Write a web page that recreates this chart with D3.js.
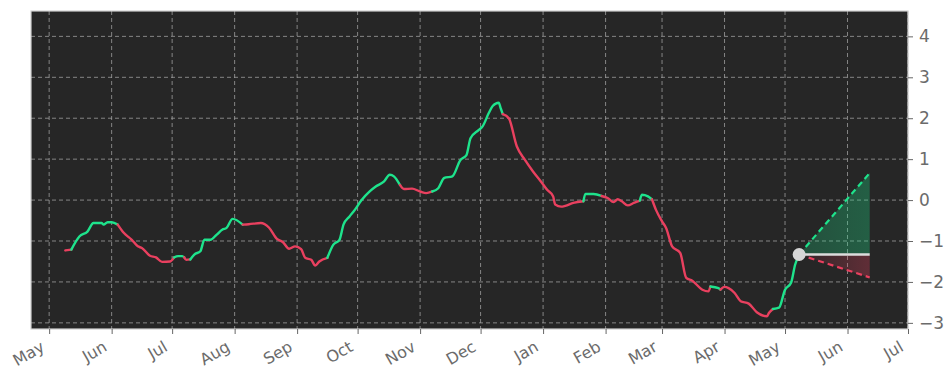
<!DOCTYPE html>
<html>
<head>
<meta charset="utf-8">
<script src="https://cdn.jsdelivr.net/npm/d3@7"></script>
<style>
  html, body { margin: 0; padding: 0; background: #ffffff; }
  svg { display: block; font-family: "DejaVu Sans", sans-serif; }
</style>
</head>
<body>
<svg id="chart" width="952" height="381"></svg>
<script>
// history: date / value pairs
const dates = [
  "2024-05-09","2024-05-12","2024-05-16","2024-05-20","2024-05-23","2024-05-27","2024-05-28","2024-05-30",
  "2024-06-01","2024-06-04","2024-06-07","2024-06-11","2024-06-14","2024-06-16","2024-06-20","2024-06-23",
  "2024-06-26","2024-06-30","2024-07-02","2024-07-04","2024-07-06","2024-07-07","2024-07-08","2024-07-10",
  "2024-07-12","2024-07-15","2024-07-17","2024-07-20","2024-07-23","2024-07-26","2024-07-28","2024-07-31",
  "2024-08-05","2024-08-08","2024-08-14","2024-08-18","2024-08-22","2024-08-25","2024-08-28","2024-08-31",
  "2024-09-03","2024-09-05","2024-09-08","2024-09-10","2024-09-12","2024-09-16","2024-09-19","2024-09-22",
  "2024-09-24","2024-09-27","2024-09-29","2024-10-03","2024-10-07","2024-10-10","2024-10-14","2024-10-17",
  "2024-10-19","2024-10-22","2024-10-24","2024-10-28","2024-11-01","2024-11-04","2024-11-07","2024-11-10",
  "2024-11-13","2024-11-17","2024-11-21","2024-11-24","2024-11-26","2024-11-30","2024-12-02","2024-12-05",
  "2024-12-07","2024-12-10","2024-12-11","2024-12-12","2024-12-15","2024-12-19","2024-12-23","2024-12-27",
  "2024-12-31","2025-01-03","2025-01-06","2025-01-07","2025-01-10","2025-01-12","2025-01-16","2025-01-21",
  "2025-01-22","2025-01-26","2025-01-30","2025-02-02","2025-02-05","2025-02-07","2025-02-09","2025-02-12",
  "2025-02-15","2025-02-18","2025-02-19","2025-02-22","2025-02-24","2025-02-26","2025-03-01","2025-03-03",
  "2025-03-06","2025-03-10","2025-03-13","2025-03-16","2025-03-21","2025-03-24","2025-03-25","2025-03-29",
  "2025-03-30","2025-04-01","2025-04-03","2025-04-06","2025-04-09","2025-04-13","2025-04-17","2025-04-22",
  "2025-04-23","2025-04-25","2025-04-28","2025-05-01","2025-05-04","2025-05-06","2025-05-08"
];
const values = [
  -1.23,-1.21,-0.89,-0.77,-0.56,-0.56,-0.60,-0.54,
  -0.54,-0.60,-0.80,-0.97,-1.13,-1.17,-1.36,-1.40,
  -1.51,-1.50,-1.40,-1.37,-1.37,-1.40,-1.46,-1.45,
  -1.33,-1.25,-0.97,-0.97,-0.85,-0.72,-0.68,-0.46,
  -0.60,-0.59,-0.56,-0.67,-0.95,-1.03,-1.19,-1.13,
  -1.20,-1.41,-1.46,-1.60,-1.50,-1.41,-1.09,-0.97,
  -0.60,-0.40,-0.28,0.00,0.21,0.33,0.45,0.62,
  0.58,0.37,0.27,0.28,0.21,0.17,0.21,0.29,
  0.54,0.58,0.98,1.10,1.51,1.71,1.80,2.12,
  2.30,2.38,2.24,2.10,2.00,1.31,0.98,0.70,
  0.45,0.25,0.09,-0.11,-0.16,-0.14,-0.07,-0.03,
  0.15,0.15,0.10,0.05,-0.05,0.02,-0.03,-0.13,
  -0.07,-0.01,0.13,0.09,0.02,-0.24,-0.52,-0.68,
  -1.13,-1.29,-1.90,-1.97,-2.19,-2.23,-2.11,-2.15,
  -2.19,-2.12,-2.15,-2.27,-2.47,-2.53,-2.74,-2.84,
  -2.76,-2.66,-2.63,-2.19,-2.02,-1.58,-1.33
];

// dates where the line colour flips (first run is red)
const trendSwitches = [
  "2024-05-12","2024-06-04","2024-07-02","2024-07-07","2024-07-10","2024-08-05","2024-09-16",
  "2024-10-22","2024-11-07","2024-12-12","2025-01-21","2025-01-30","2025-02-18","2025-02-24",
  "2025-03-25","2025-03-30","2025-04-25"
];

// projection cone
const forecastDates = ["2025-05-08", "2025-06-12"];
const forecastHigh = [-1.33, 0.66];
const forecastMid = [-1.33, -1.33];
const forecastLow = [-1.33, -1.89];

const yTicks = [-3, -2, -1, 0, 1, 2, 3, 4];
const xDomain = ["2024-04-22", "2025-07-01"];

const GREEN = "#1ee38c";
const RED = "#e9405f";
const LABEL = "#6b6b6b";

const parse = d3.utcParse("%Y-%m-%d");
const width = 952, height = 381;
const margin = {top: 11, right: 44, bottom: 52, left: 31};

const svg = d3.select("#chart");

const x = d3.scaleUtc()
    .domain(xDomain.map(parse))
    .range([margin.left, width - margin.right]);

const y = d3.scaleLinear()
    .domain([-3.15, 4.62])
    .range([height - margin.bottom, margin.top]);

const colour = d3.scaleThreshold()
    .domain(trendSwitches.map(parse))
    .range(trendSwitches.concat([null]).map((d, i) => i % 2 === 0 ? RED : GREEN));

// plot background
svg.append("rect")
    .attr("x", margin.left)
    .attr("y", margin.top)
    .attr("width", width - margin.left - margin.right)
    .attr("height", height - margin.top - margin.bottom)
    .attr("fill", "#262626");

const monthTicks = x.ticks(d3.utcMonth.every(1));

// grid
const grid = svg.append("g")
    .attr("stroke", "#bdbdbd")
    .attr("stroke-width", 0.8)
    .attr("stroke-dasharray", "4,3")
    .attr("opacity", 0.8);

grid.selectAll("line.v")
    .data(monthTicks)
    .join("line")
    .attr("class", "v")
    .attr("x1", d => x(d)).attr("x2", d => x(d))
    .attr("y1", margin.top).attr("y2", height - margin.bottom);

grid.selectAll("line.h")
    .data(yTicks)
    .join("line")
    .attr("class", "h")
    .attr("x1", margin.left).attr("x2", width - margin.right)
    .attr("y1", d => y(d)).attr("y2", d => y(d));

// forecast cone
const fc = forecastDates.map((d, i) => ({
    date: parse(d), hi: forecastHigh[i], mid: forecastMid[i], lo: forecastLow[i]
}));

const defs = svg.append("defs");
const redGrad = defs.append("linearGradient")
    .attr("id", "redFill")
    .attr("x1", "0%").attr("x2", "100%").attr("y1", "0%").attr("y2", "0%");
redGrad.append("stop").attr("offset", "0%").attr("stop-color", RED).attr("stop-opacity", 0.05);
redGrad.append("stop").attr("offset", "100%").attr("stop-color", RED).attr("stop-opacity", 0.3);

const greenGrad = defs.append("linearGradient")
    .attr("id", "greenFill")
    .attr("x1", "0%").attr("x2", "100%").attr("y1", "0%").attr("y2", "0%");
greenGrad.append("stop").attr("offset", "0%").attr("stop-color", GREEN).attr("stop-opacity", 0.22);
greenGrad.append("stop").attr("offset", "100%").attr("stop-color", GREEN).attr("stop-opacity", 0.3);

svg.append("path")
    .datum(fc)
    .attr("fill", "url(#greenFill)")
    .attr("d", d3.area().x(d => x(d.date)).y0(d => y(d.mid)).y1(d => y(d.hi)));

svg.append("path")
    .datum(fc)
    .attr("fill", "url(#redFill)")
    .attr("d", d3.area().x(d => x(d.date)).y0(d => y(d.mid)).y1(d => y(d.lo)));

const fline = key => d3.line().x(d => x(d.date)).y(d => y(d[key]));

svg.append("path")
    .datum(fc)
    .attr("fill", "none")
    .attr("stroke", GREEN)
    .attr("stroke-width", 2.2)
    .attr("stroke-dasharray", "6,4")
    .attr("d", fline("hi"));

svg.append("path")
    .datum(fc)
    .attr("fill", "none")
    .attr("stroke", RED)
    .attr("stroke-width", 2.2)
    .attr("stroke-dasharray", "6,4")
    .attr("d", fline("lo"));

svg.append("path")
    .datum(fc)
    .attr("fill", "none")
    .attr("stroke", "#dcdcdc")
    .attr("stroke-width", 2.5)
    .attr("d", fline("mid"));

// history line, split into coloured runs
const points = dates.map((d, i) => ({date: parse(d), value: values[i]}));
const runs = [];
points.forEach((p, i) => {
    const c = colour(p.date);
    if (!runs.length || runs[runs.length - 1].colour !== c) {
        const run = {colour: c, pts: []};
        if (i > 0) runs[runs.length - 1].pts.push(p);
        runs.push(run);
    }
    runs[runs.length - 1].pts.push(p);
});

const line = d3.line()
    .curve(d3.curveMonotoneX)
    .x(d => x(d.date))
    .y(d => y(d.value));

svg.append("g")
    .selectAll("path")
    .data(runs)
    .join("path")
    .attr("fill", "none")
    .attr("stroke", d => d.colour)
    .attr("stroke-width", 2.4)
    .attr("stroke-linejoin", "round")
    .attr("stroke-linecap", "round")
    .attr("d", d => line(d.pts));

// last value marker
const last = points[points.length - 1];
svg.append("circle")
    .attr("cx", x(last.date))
    .attr("cy", y(last.value))
    .attr("r", 6.5)
    .attr("fill", "#d6d6d6");

// frame
svg.append("rect")
    .attr("x", margin.left)
    .attr("y", margin.top)
    .attr("width", width - margin.left - margin.right)
    .attr("height", height - margin.top - margin.bottom)
    .attr("fill", "none")
    .attr("stroke", "#cfcfcf")
    .attr("stroke-width", 1.2);

// axes
const xAxis = svg.append("g")
    .attr("transform", `translate(0,${height - margin.bottom})`)
    .call(d3.axisBottom(x)
        .tickValues(monthTicks)
        .tickFormat(d3.utcFormat("%b"))
        .tickSize(5));

xAxis.select(".domain").remove();
xAxis.selectAll(".tick line").attr("stroke", "#666").attr("stroke-width", 1);
xAxis.selectAll(".tick text")
    .attr("fill", LABEL)
    .attr("font-size", 16)
    .attr("font-family", "DejaVu Sans, sans-serif")
    .attr("text-anchor", "end")
    .attr("x", 0)
    .attr("y", 0)
    .attr("dy", 0)
    .attr("transform", "translate(-4,21) rotate(-30)");

const yAxis = svg.append("g")
    .attr("transform", `translate(${width - margin.right},0)`)
    .call(d3.axisRight(y)
        .tickValues(yTicks)
        .tickFormat(d => d < 0 ? "\u2212" + Math.abs(d) : String(d))
        .tickSize(5)
        .tickPadding(6));

yAxis.select(".domain").remove();
yAxis.selectAll(".tick line").attr("stroke", "#666").attr("stroke-width", 1);
yAxis.selectAll(".tick text")
    .attr("fill", LABEL)
    .attr("font-size", 17)
    .attr("font-family", "DejaVu Sans, sans-serif");
</script>
</body>
</html>
